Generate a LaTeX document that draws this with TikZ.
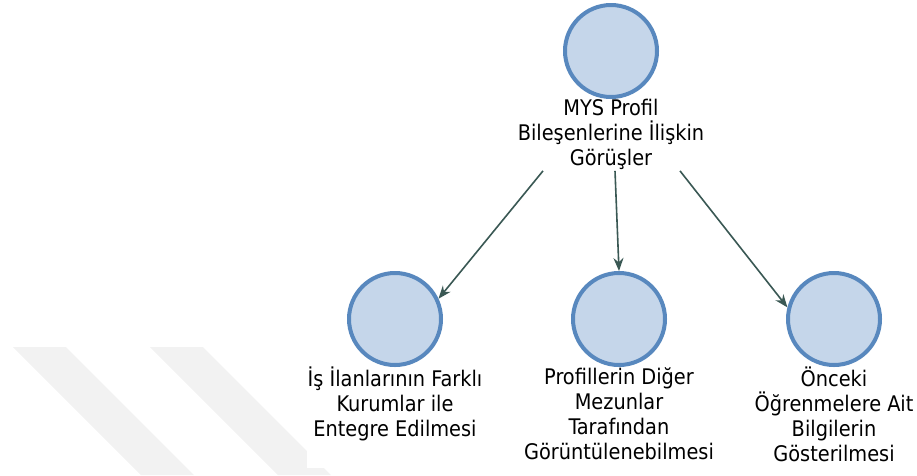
\documentclass[tikz,border=0pt]{standalone}
\usepackage{fontspec}
\setmainfont{DejaVu Sans Condensed}
\usetikzlibrary{arrows.meta,positioning}
\definecolor{kodfill}{RGB}{197,214,234}
\definecolor{kodline}{RGB}{88,136,190}
\definecolor{linkcol}{RGB}{58,88,84}
\definecolor{wmark}{RGB}{242,242,242}
\begin{document}
\begin{tikzpicture}[x=1pt,y=-1pt,
  kod/.style={circle,draw=kodline,fill=kodfill,line width=4pt,minimum size=92pt,inner sep=0pt},
  etiket/.style={below=0pt of #1,align=center,inner sep=0pt,font=\fontsize{21.5}{25}\selectfont},
  link/.style={draw=linkcol,line width=1.6pt,-{Stealth[length=13pt,width=10pt]}}]
  \useasboundingbox (0,0) rectangle (917,475);
  % watermark stripes
  \fill[wmark] (13,347) -- (66,347) -- (194,475) -- (141,475) -- cycle;
  \fill[wmark] (150,347) -- (203,347) -- (331,475) -- (278,475) -- cycle;
  \fill[white] (307,0) rectangle (917,468);
  % top
  \node[kod] (c0) at (611,51) {};
  \node[etiket=c0] (l0) {MYS Profil\\Bileşenlerine İlişkin\\Görüşler};
  % bottom row
  \node[kod] (c1) at (395,319) {};
  \node[etiket=c1] (l1) {İş İlanlarının Farklı\\Kurumlar ile\\Entegre Edilmesi};
  \node[kod] (c2) at (619,319) {};
  \node[etiket=c2] (l2) {Profillerin Diğer\\Mezunlar\\Tarafından\\Görüntülenebilmesi};
  \node[kod] (c3) at (834,319) {};
  \node[etiket=c3] (l3) {Önceki\\Öğrenmelere Ait\\Bilgilerin\\Gösterilmesi};
  % links
  \draw[link] ([xshift=-68pt,yshift=-1pt]l0.south) -- (c1.25);
  \draw[link] ([xshift=4pt,yshift=-1pt]l0.south) -- (c2.north);
  \draw[link] ([xshift=69pt,yshift=-1pt]l0.south) -- (c3.166);
\end{tikzpicture}
\end{document}
